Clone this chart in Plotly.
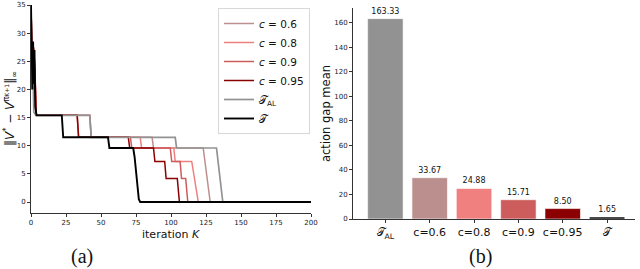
import plotly.graph_objects as go

# ---------------- data: panel (a) ----------------
# breakpoints (iteration K, error) for each curve
k_c06 = [0, 1, 1.5, 2.3, 3, 3.7, 42, 43, 86.5, 87.5, 123, 128, 200]
v_c06 = [35, 22, 28, 25.7, 21.5, 15.4, 15.4, 11.5, 11.5, 9.6, 9.6, 0, 0]

k_c08 = [0, 1, 1.5, 2.3, 3, 3.7, 42, 43, 78, 79, 102, 103, 114.8, 119.5, 200]
v_c08 = [35, 22, 28, 25.7, 21.5, 15.4, 15.4, 11.5, 11.5, 9.6, 9.6, 7.2, 7.2, 0, 0]

k_c09 = [0, 1, 1.5, 2.3, 3, 3.7, 33, 34, 71, 72, 99.5, 100.5, 106.5, 107.5, 110.5, 112, 200]
v_c09 = [35, 22, 28, 25.7, 21.5, 15.4, 15.4, 11.5, 11.5, 9.6, 9.6, 7.2, 7.2, 4.2, 4.2, 0, 0]

k_c095 = [0, 1, 1.5, 2.3, 3, 3.7, 33, 34, 69.5, 70.5, 87.5, 88.5, 95.5, 96.5, 104.5, 106, 200]
v_c095 = [35, 22, 28, 25.7, 21.5, 15.4, 15.4, 11.5, 11.5, 9.6, 9.6, 7.2, 7.2, 4.2, 4.2, 0, 0]

k_tal = [0, 1, 2, 3.5, 42, 43, 103, 104, 132.5, 133.5, 134, 137, 200]
v_tal = [20, 28, 16, 15.4, 15.4, 11.5, 11.5, 9.6, 9.6, 7.5, 7.2, 0, 0]

k_t = [0, 1, 1.5, 2, 2.5, 3, 4, 22, 23, 55, 56, 73, 74, 75, 76, 77, 78, 200]
v_t = [35, 20, 28.5, 21, 27, 17, 15.4, 15.4, 11.5, 11.5, 9.6, 9.6, 8, 5, 2.5, 0.5, 0, 0]

x_ticks_a = [0, 25, 50, 75, 100, 125, 150, 175, 200]
y_ticks_a = [0, 5, 10, 15, 20, 25, 30, 35]

# ---------------- data: panel (b) ----------------
bar_labels = ["𝒯<sub>AL</sub>", "c=0.6", "c=0.8", "c=0.9", "c=0.95", "𝒯"]
bar_values = [163.33, 33.67, 24.88, 15.71, 8.50, 1.65]
y_ticks_b = [0, 20, 40, 60, 80, 100, 120, 140, 160]

C_ROSY = "#bc8f8f"
C_CORAL = "#f08080"
C_INDIAN = "#cd5c5c"
C_DARK = "#8b0000"
C_GRAY = "#929292"
C_BLACK = "#000000"

fig = go.Figure()

series = [
    (k_c06, v_c06, C_ROSY, "<i>c</i> = 0.6", 1.5),
    (k_c08, v_c08, C_CORAL, "<i>c</i> = 0.8", 1.5),
    (k_c09, v_c09, C_INDIAN, "<i>c</i> = 0.9", 1.5),
    (k_c095, v_c095, C_DARK, "<i>c</i> = 0.95", 1.5),
    (k_tal, v_tal, C_GRAY, "𝒯<sub>AL</sub>", 1.7),
    (k_t, v_t, C_BLACK, "𝒯", 1.9),
]
for kx, vy, col, name, w in series:
    fig.add_trace(go.Scatter(x=kx, y=vy, mode="lines", name=name,
                             line=dict(color=col, width=w),
                             xaxis="x", yaxis="y"))

fig.add_trace(go.Bar(x=list(range(len(bar_values))), y=bar_values,
                     marker=dict(color=[C_GRAY, C_ROSY, C_CORAL, C_INDIAN, C_DARK, C_BLACK],
                                 line=dict(color="rgba(255,255,255,0.6)", width=1)),
                     width=0.8, text=[f"{v:.2f}" for v in bar_values],
                     textposition="outside", cliponaxis=False,
                     textfont=dict(size=8, color="#111", family="DejaVu Sans"),
                     showlegend=False, xaxis="x2", yaxis="y2"))

W, H = 640, 269


def px(x):
    return x / W


def py(y):
    return 1 - y / H


TICKFONT = dict(size=7, family="DejaVu Sans", color="#222")
ax_common = dict(showgrid=False, zeroline=False, showline=True, linecolor="#333",
                 linewidth=1, ticks="outside", ticklen=3, tickcolor="#333",
                 automargin=False, tickangle=0)

fig.update_layout(
    width=W, height=H,
    margin=dict(l=0, r=0, t=0, b=0),
    paper_bgcolor="white", plot_bgcolor="white",
    font=dict(family="DejaVu Sans", color="#111"),
    xaxis=dict(domain=[px(31), px(311)], range=[0, 200], tickvals=x_ticks_a,
               anchor="y", tickfont=TICKFONT, **ax_common),
    yaxis=dict(domain=[py(213), py(5)], range=[-1.95, 35], tickvals=y_ticks_a,
               anchor="x", tickfont=TICKFONT, **ax_common),
    xaxis2=dict(domain=[px(353), px(635)], range=[-0.73, 5.63],
                tickvals=list(range(len(bar_labels))), ticktext=bar_labels,
                anchor="y2", tickfont=dict(size=11, family="DejaVu Sans", color="#111"),
                **ax_common),
    yaxis2=dict(domain=[py(219), py(8)], range=[0, 172], tickvals=y_ticks_b,
                anchor="x2", tickfont=TICKFONT, **ax_common),
    legend=dict(x=px(218), y=py(8), xanchor="left", yanchor="top",
                bgcolor="white", bordercolor="#d8d8d8", borderwidth=1,
                font=dict(size=10.5, family="DejaVu Sans", color="#111"),
                tracegroupgap=0, itemwidth=30),
    showlegend=True,
)

ann = [
    dict(text="iteration <i>K</i>", x=px(171), y=py(234), font=dict(size=11)),
    dict(text="‖<i>V</i><sup>*</sup> − <i>V</i><sup>π<span style='font-size:6px'>K+1</span></sup>‖<sub>∞</sub>",
         x=px(10), y=py(109), textangle=-90, font=dict(size=12)),
    dict(text="(a)", x=px(82), y=py(256), font=dict(size=20, family="Liberation Serif")),
    dict(text="action gap mean", x=px(326), y=py(114), textangle=-90, font=dict(size=11.5)),
    dict(text="(b)", x=px(480), y=py(256), font=dict(size=20, family="Liberation Serif")),
]
for a in ann:
    fig.add_annotation(xref="paper", yref="paper", showarrow=False,
                       xanchor="center", yanchor="middle", **a)

fig.write_html("out.html", config={"displayModeBar": False},
               post_script="document.body.style.margin='0';")
